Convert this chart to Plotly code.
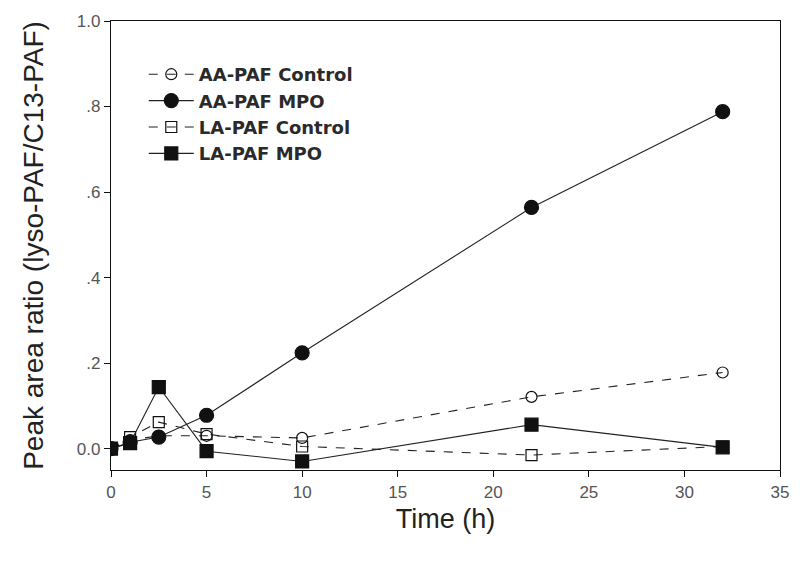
import plotly.graph_objects as go

time_h = [0, 1, 2.5, 5, 10, 22, 32]
aa_control = [0, 0.02, 0.03, 0.03, 0.025, 0.121, 0.178]
aa_mpo = [0, 0.015, 0.027, 0.078, 0.224, 0.564, 0.788]
la_control = [0, 0.027, 0.062, 0.034, 0.005, -0.015, 0.005]
la_mpo = [0, 0.013, 0.144, -0.006, -0.030, 0.056, 0.003]

x_ticks = [0, 5, 10, 15, 20, 25, 30, 35]
y_ticks = [0, 0.2, 0.4, 0.6, 0.8, 1.0]
y_ticklabels = ["0.0", ".2", ".4", ".6", ".8", "1.0"]

series = [
    ("AA-PAF Control", aa_control, "circle-open", "dash", 11),
    ("AA-PAF MPO", aa_mpo, "circle", "solid", 14),
    ("LA-PAF Control", la_control, "square-open", "dash", 11),
    ("LA-PAF MPO", la_mpo, "square", "solid", 13),
]

fig = go.Figure()
for name, vals, sym, dash, size in series:
    fig.add_trace(go.Scatter(
        x=time_h, y=vals, name=name, mode="lines+markers",
        line=dict(color="#222222", width=1.1, dash=dash),
        marker=dict(symbol=sym, size=size, color="#111111",
                    line=dict(color="#111111", width=1.2)),
    ))

axis_common = dict(
    showline=True, linecolor="#111111", linewidth=1.3, mirror=True,
    ticks="outside", ticklen=6, tickcolor="#111111", tickwidth=1,
    showgrid=False, zeroline=False, automargin=False,
    tickfont=dict(family="Arial, Liberation Sans, sans-serif", size=17, color="#555555"),
)

fig.update_layout(
    width=800, height=567,
    paper_bgcolor="white", plot_bgcolor="white",
    margin=dict(l=103, r=28, t=13, b=105),
    font=dict(family="Arial, Liberation Sans, sans-serif", color="#222222"),
    xaxis=dict(range=[0, 35], tickvals=x_ticks,
               title=dict(text="Time (h)", font=dict(size=27, color="#222222"), standoff=8),
               **axis_common),
    yaxis=dict(range=[-0.05, 1.0], tickvals=y_ticks, ticktext=y_ticklabels,
               title=dict(text="Peak area ratio (lyso-PAF/C13-PAF)", font=dict(size=28, color="#222222"), standoff=25),
               **axis_common),
    legend=dict(x=0.049, y=0.922, xanchor="left", yanchor="top",
                bgcolor="rgba(0,0,0,0)", borderwidth=0,
                font=dict(size=18, color="#2a2a2a", family="DejaVu Sans, sans-serif", weight="bold"),
                itemwidth=45, tracegroupgap=0),
    showlegend=True,
)

fig.write_html("out.html")
